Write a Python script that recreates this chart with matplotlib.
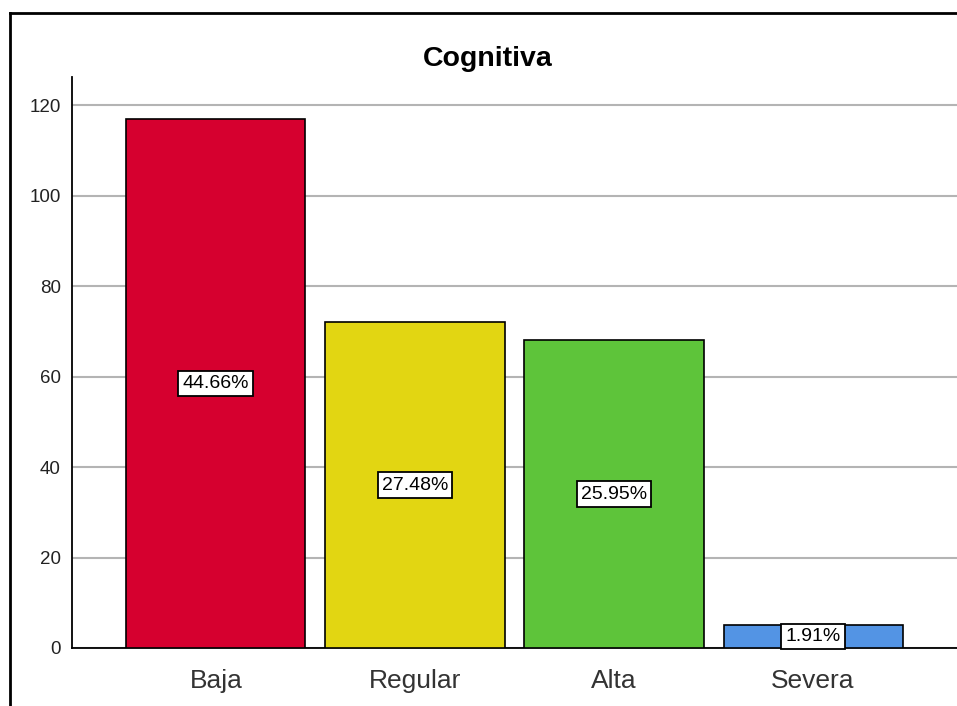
import matplotlib
matplotlib.use("Agg")
import matplotlib.pyplot as plt
from matplotlib.lines import Line2D

categories = ["Baja", "Regular", "Alta", "Severa"]
counts = [117, 72, 68, 5]
pct_labels = ["44.66%", "27.48%", "25.95%", "1.91%"]
colors = ["#D6002F", "#E2D612", "#5EC43A", "#5394E4"]
yticks = [0, 20, 40, 60, 80, 100, 120]
title = "Cognitiva"

plt.rcParams['font.family'] = ['Liberation Sans', 'DejaVu Sans']

fig = plt.figure(figsize=(9.57, 7.06), dpi=100)
ax = fig.add_axes([72/957, 1-648/706, 1-72/957, (648-77)/706])

x = list(range(len(categories)))
ax.bar(x, counts, width=0.9, color=colors, edgecolor="black", linewidth=1.2, zorder=3)
for xi, c, lab in zip(x, counts, pct_labels):
    ax.text(xi, c/2, lab, ha="center", va="center", fontsize=14, zorder=5,
            bbox=dict(boxstyle="square,pad=0.22", facecolor="white", edgecolor="black", linewidth=1.3))

ax.set_xlim(-0.723, 3.723)
ax.set_ylim(0, 126.2)
ax.set_yticks(yticks)
ax.set_xticks(x)
ax.set_xticklabels(categories, fontsize=19)
ax.tick_params(axis="y", labelsize=13.5, length=0, pad=8)
ax.tick_params(axis="x", length=0, pad=15)
for t in ax.get_yticklabels():
    t.set_color("#222222")
for t in ax.get_xticklabels():
    t.set_color("#333333")
ax.yaxis.grid(True, color="#b4b4b4", linewidth=1.5, zorder=0)
ax.set_axisbelow(True)
for s in ["top", "right"]:
    ax.spines[s].set_visible(False)
ax.spines["left"].set_linewidth(1.3)
ax.spines["bottom"].set_linewidth(1.3)

fig.text(488/957, 1-59/706, title, ha="center", va="center", fontsize=20.5, fontweight="bold")

fig.add_artist(Line2D([10/957, 10/957], [0, 1-13/706], color="black", linewidth=2, transform=fig.transFigure))
fig.add_artist(Line2D([10/957, 1], [1-13/706, 1-13/706], color="black", linewidth=2, transform=fig.transFigure))

fig.savefig("out.png", dpi=100)
